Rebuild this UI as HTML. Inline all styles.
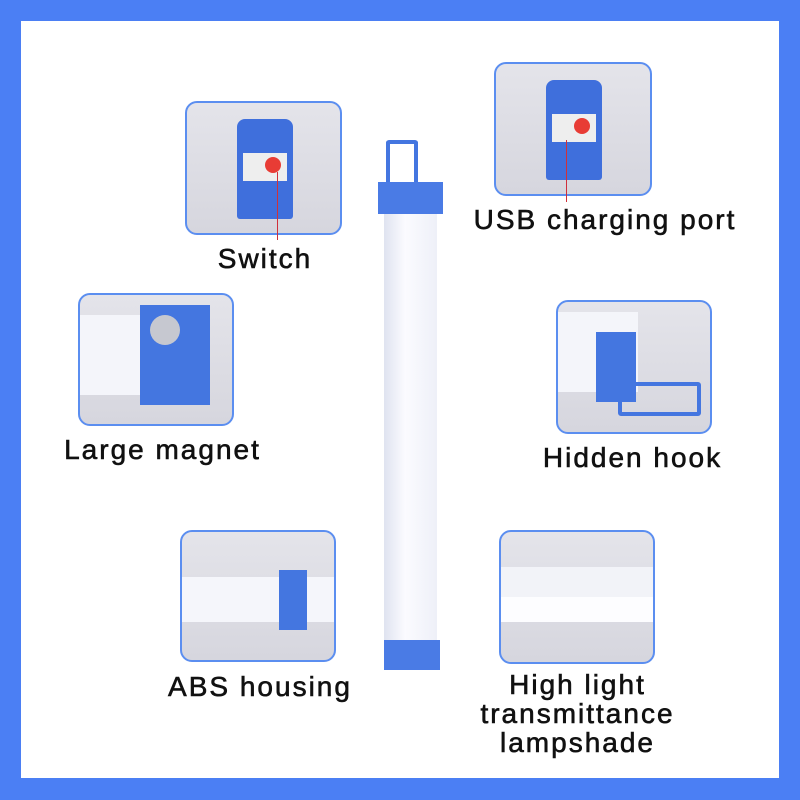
<!DOCTYPE html>
<html><head><style>
body{margin:0;width:800px;height:800px;background:#4b7ff4;position:relative;overflow:hidden;font-family:"Liberation Sans",sans-serif}
.in{position:absolute;left:21px;top:21px;width:758px;height:757px;background:#fff}
.b{position:absolute;border:2px solid #5b8ef0;border-radius:12px;background:linear-gradient(#e4e4ea,#d6d6de);overflow:hidden;box-sizing:border-box}
.t{position:absolute;font-size:28px;color:#111;-webkit-text-stroke:0.6px #111;text-align:center;line-height:29px;white-space:nowrap;letter-spacing:2px}
.bl{position:absolute;background:#3f6fdc}
.wt{position:absolute;background:linear-gradient(90deg,#dfe3f0,#fbfbff 40%,#eef0f8)}
</style></head><body>
<div class="in"></div>
<!-- Switch -->
<div class="b" style="left:185px;top:101px;width:157px;height:134px">
 <div class="bl" style="left:50px;top:16px;width:56px;height:100px;border-radius:8px 8px 3px 3px"></div>
 <div style="position:absolute;left:56px;top:50px;width:44px;height:28px;background:#eee"></div>
 <div style="position:absolute;left:78px;top:54px;width:16px;height:16px;border-radius:50%;background:#e83c35"></div>
</div>
<div style="position:absolute;left:277px;top:172px;width:1px;height:68px;background:#d0303a"></div>
<div class="t" style="left:195px;top:244px;width:140px">Switch</div>
<!-- USB -->
<div class="b" style="left:494px;top:62px;width:158px;height:134px">
 <div class="bl" style="left:50px;top:16px;width:56px;height:100px;border-radius:8px 8px 3px 3px"></div>
 <div style="position:absolute;left:56px;top:50px;width:44px;height:28px;background:#eee"></div>
 <div style="position:absolute;left:78px;top:54px;width:16px;height:16px;border-radius:50%;background:#e83c35"></div>
</div>
<div style="position:absolute;left:566px;top:140px;width:1px;height:62px;background:#d0303a"></div>
<div class="t" style="left:445px;top:205px;width:320px">USB charging port</div>
<!-- Magnet -->
<div class="b" style="left:78px;top:293px;width:156px;height:133px">
 <div class="wt" style="left:0;top:20px;width:70px;height:80px;background:#f4f5fa"></div>
 <div class="bl" style="left:60px;top:10px;width:70px;height:100px;background:#4476e0"></div>
 <div style="position:absolute;left:70px;top:20px;width:30px;height:30px;border-radius:50%;background:#c6c8d0"></div>
</div>
<div class="t" style="left:40px;top:435px;width:245px">Large magnet</div>
<!-- Hook -->
<div class="b" style="left:556px;top:300px;width:156px;height:134px">
 <div class="wt" style="left:0;top:10px;width:80px;height:80px;background:#f4f5fa"></div>
 <div class="bl" style="left:38px;top:30px;width:40px;height:70px;background:#4476e0"></div>
 <div style="position:absolute;left:60px;top:80px;width:75px;height:26px;border:4px solid #4476e0;border-radius:3px"></div>
</div>
<div class="t" style="left:515px;top:443px;width:235px">Hidden hook</div>
<!-- ABS -->
<div class="b" style="left:180px;top:530px;width:156px;height:132px">
 <div class="wt" style="left:0;top:45px;width:156px;height:45px;background:#f5f6fb"></div>
 <div class="bl" style="left:97px;top:38px;width:28px;height:60px;background:#4476e0"></div>
</div>
<div class="t" style="left:140px;top:672px;width:240px">ABS housing</div>
<!-- High light -->
<div class="b" style="left:499px;top:530px;width:156px;height:134px">
 <div style="position:absolute;left:0;top:35px;width:156px;height:30px;background:#f2f3f8"></div>
 <div style="position:absolute;left:0;top:65px;width:156px;height:25px;background:#fdfdff"></div>
</div>
<div class="t" style="left:440px;top:670px;width:275px">High light<br>transmittance<br>lampshade</div>
<!-- Lamp -->
<div style="position:absolute;left:386px;top:140px;width:24px;height:48px;border:4px solid #4476e0;border-bottom:none;border-radius:3px"></div>
<div class="bl" style="left:378px;top:182px;width:65px;height:32px;background:#4a7be5"></div>
<div class="wt" style="left:384px;top:214px;width:53px;height:428px"></div>
<div class="bl" style="left:384px;top:640px;width:56px;height:30px;background:#4a7be5"></div>
</body></html>
